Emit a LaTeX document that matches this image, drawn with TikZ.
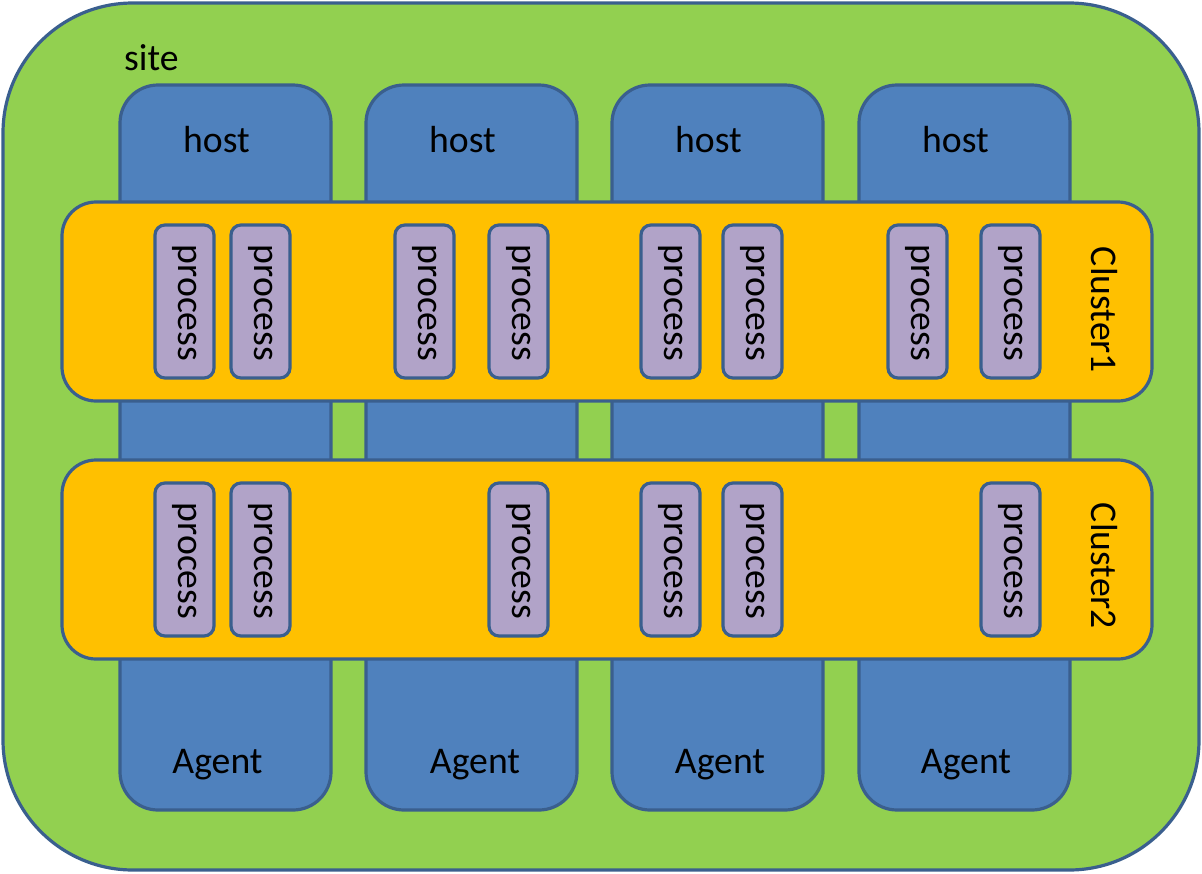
\documentclass[tikz,border=0pt]{standalone}
\usepackage{fontspec}
\setmainfont{Carlito}
\definecolor{sitegreen}{HTML}{92D050}
\definecolor{hostblue}{HTML}{4F81BD}
\definecolor{edgeblue}{HTML}{3A5F8E}
\definecolor{clusterorange}{HTML}{FFC000}
\definecolor{procpurple}{HTML}{B1A3C8}
\tikzset{
  base/.style={draw=edgeblue, line width=3.2pt, inner sep=0pt, outer sep=0pt},
  sitebox/.style={base, fill=sitegreen, rounded corners=130pt, minimum width=1196pt, minimum height=867pt},
  hostbox/.style={base, fill=hostblue, rounded corners=38pt, minimum width=211pt, minimum height=725pt},
  clusterbox/.style={base, fill=clusterorange, rounded corners=34pt, minimum width=1090pt, minimum height=199pt},
  procbox/.style={base, fill=procpurple, rounded corners=10pt, minimum width=59pt, minimum height=153pt},
  lbl/.style={font=\fontsize{37.7}{45}\selectfont, inner sep=0pt},
  vlbl/.style={lbl, rotate=-90},
}
\begin{document}
\begin{tikzpicture}[x=1pt,y=-1pt]
\useasboundingbox (0,0) rectangle (1202,873);
\node[sitebox] (site) at (601,436.5) {};
\node[lbl, anchor=base west] (sitelbl) at (124,70) {site};
% hosts
\foreach \i/\xl/\ax in {1/120/217.5,2/366/475,3/612/720,4/859/966}{
  \node[hostbox] (host\i) at ({\xl+105.5},447.5) {};
  \node[lbl, anchor=base] (hostlbl\i) at ({\xl+96.5},152) {host};
  \node[lbl, anchor=base] (agent\i) at (\ax,773) {Agent};
}
% clusters
\node[clusterbox] (cluster1) at (607,301.5) {};
\node[clusterbox] (cluster2) at (607,559.5) {};
\node[vlbl] (c1lbl) at (1104,310) {Cluster1};
\node[vlbl] (c2lbl) at (1104,566) {Cluster2};
% processes
\foreach \j/\xl in {1/155,2/231,3/395,4/489,5/641,6/723,7/888,8/981}{
  \node[procbox] (pa\j) at ({\xl+29.5},301.5) {};
  \node[vlbl] (pal\j) at ({\xl+29.5},303) {process};
}
\foreach \j/\xl in {1/155,2/231,4/489,5/641,6/723,8/981}{
  \node[procbox] (pb\j) at ({\xl+29.5},559.5) {};
  \node[vlbl] (pbl\j) at ({\xl+29.5},561) {process};
}
\end{tikzpicture}
\end{document}
